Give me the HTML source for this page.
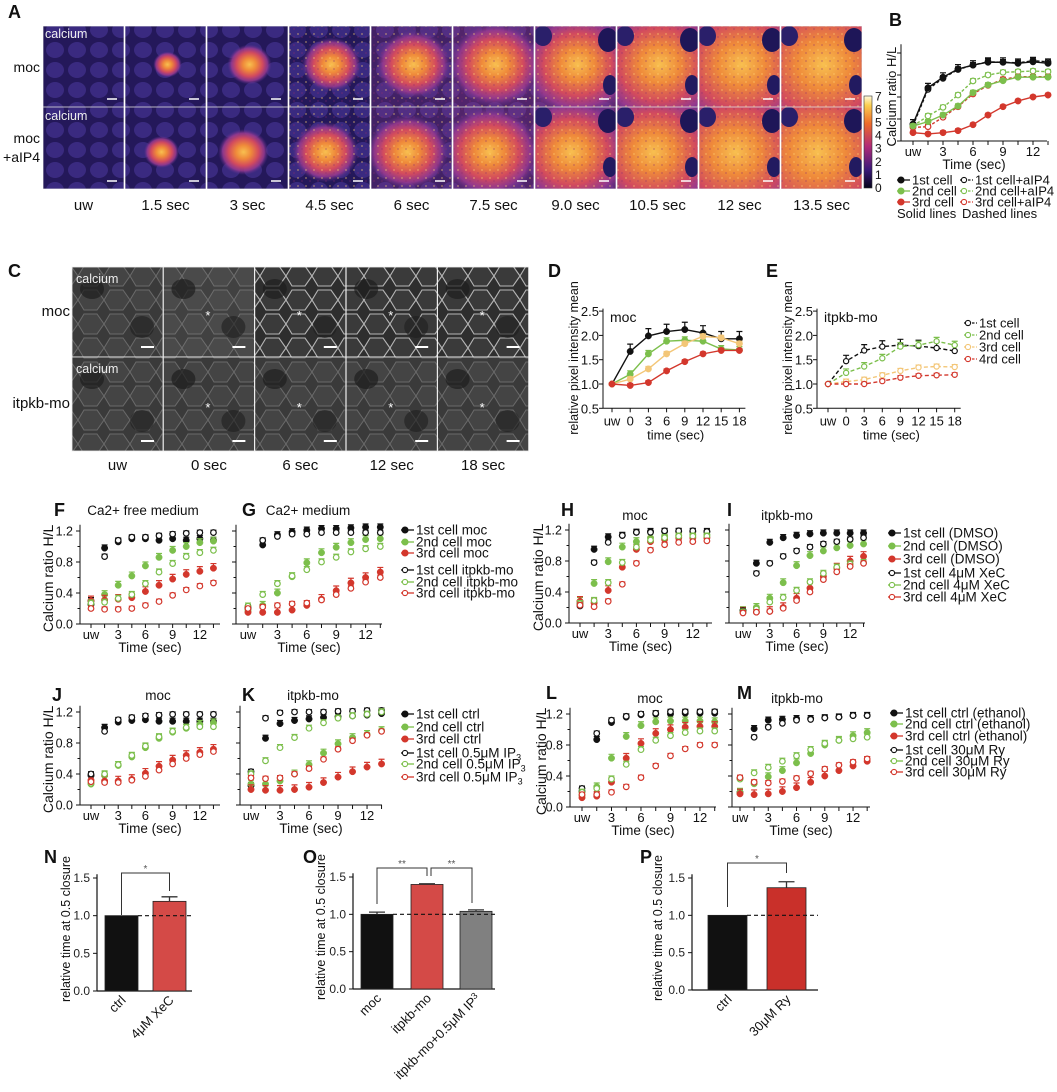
<!DOCTYPE html>
<html><head><meta charset="utf-8">
<style>
html,body{margin:0;padding:0;background:#fff;}
svg{display:block;font-family:"Liberation Sans",Arial,sans-serif;}
</style></head>
<body>
<svg id="fig" width="1057" height="1092" viewBox="0 0 1057 1092" xmlns="http://www.w3.org/2000/svg">
<defs id="defs">
<radialGradient id="blob" cx="50%" cy="50%" r="50%">
<stop offset="0%" stop-color="#f8c050"/><stop offset="30%" stop-color="#ef8a3a"/><stop offset="60%" stop-color="#d24a5e"/><stop offset="82%" stop-color="#9a3a90" stop-opacity="0.85"/><stop offset="100%" stop-color="#5a3090" stop-opacity="0"/>
</radialGradient>
<linearGradient id="cbar" x1="0" y1="1" x2="0" y2="0">
<stop offset="0%" stop-color="#05031a"/><stop offset="20%" stop-color="#3a1a7a"/><stop offset="45%" stop-color="#b02a78"/><stop offset="70%" stop-color="#ee6a2a"/><stop offset="90%" stop-color="#fbd050"/><stop offset="100%" stop-color="#fffbe0"/>
</linearGradient>
<pattern id="cellsBright" width="26" height="24" patternUnits="userSpaceOnUse">
<rect width="26" height="24" fill="#2e2e2e"/><path d="M0 12 L6 2 L19 2 L26 12 L19 22 L6 22 Z" fill="#3a3a3a" stroke="#b5b5b5" stroke-width="1.1"/>
</pattern>
<pattern id="cellsFaint" width="26" height="24" patternUnits="userSpaceOnUse">
<rect width="26" height="24" fill="#3a3a3a"/><path d="M0 12 L6 2 L19 2 L26 12 L19 22 L6 22 Z" fill="#444" stroke="#6a6a6a" stroke-width="1"/>
</pattern>
<pattern id="purpleCells" width="22" height="20" patternUnits="userSpaceOnUse">
<rect width="22" height="20" fill="#24185a"/><ellipse cx="11" cy="10" rx="9" ry="8" fill="#3a2a80"/>
</pattern>
<pattern id="speckle" width="8" height="8" patternUnits="userSpaceOnUse">
<circle cx="2" cy="2" r="1" fill="#ffd070" opacity="0.6"/><circle cx="6" cy="5" r="0.9" fill="#8a2a70" opacity="0.6"/>
</pattern>
</defs>
</svg>
<script>
// ===== Data arrays =====
const timesSec = [0,1.5,3,4.5,6,7.5,9,10.5,12,13.5];
const xTickVals = [0,3,6,9,12];
const xTickLabels = ['uw','3','6','9','12'];
const yTickVals = [0,0.4,0.8,1.2];
const yTickLabels = ['0.0','0.4','0.8','1.2'];

// B
const B_1st = [0.77,2.42,2.9,3.27,3.45,3.58,3.58,3.53,3.6,3.53];
const B_2nd = [0.68,0.88,1.18,1.59,2.2,2.55,2.74,2.9,2.9,2.9];
const B_3rd = [0.38,0.32,0.38,0.47,0.74,1.18,1.56,1.82,2.0,2.09];
const B_1st_aIP4 = [0.7,2.35,2.85,3.25,3.45,3.6,3.58,3.55,3.65,3.6];
const B_2nd_aIP4 = [0.68,1.14,1.53,2.09,2.73,3.0,3.12,3.15,3.18,3.15];
const B_3rd_aIP4 = [0.62,0.65,1.08,1.56,2.14,2.53,2.8,2.92,2.92,2.92];
const B_yTicks = [0,1,2,3,4];

// D / E
const DE_cats = ['uw','0','3','6','9','12','15','18'];
const DE_yTicks = [0.5,1.0,1.5,2.0,2.5];
const DE_yLabels = ['0.5','1.0','1.5','2.0','2.5'];
const D_1st = [1,1.67,1.99,2.08,2.12,2.05,1.93,1.93];
const D_2nd = [1,1.2,1.62,1.88,1.9,1.88,1.72,1.7];
const D_3rd = [1,1.1,1.31,1.62,1.83,1.98,1.95,1.83];
const D_4th = [1,0.97,1.03,1.27,1.46,1.62,1.69,1.69];
const E_1st = [1,1.47,1.69,1.77,1.8,1.78,1.74,1.68];
const E_2nd = [1,1.23,1.36,1.53,1.77,1.8,1.88,1.8];
const E_3rd = [1,1.05,1.09,1.18,1.27,1.34,1.36,1.35];
const E_4th = [1,1,1,1.06,1.13,1.17,1.18,1.19];

// F
const F_1st_moc = [0.3,0.98,1.06,1.1,1.1,1.08,1.1,1.08,1.1,1.08];
const F_2nd_moc = [0.26,0.38,0.5,0.62,0.75,0.86,0.95,1.0,1.05,1.07];
const F_3rd_moc = [0.3,0.31,0.32,0.34,0.42,0.5,0.58,0.64,0.68,0.72];
const F_1st_mo = [0.25,0.87,1.08,1.12,1.12,1.14,1.16,1.17,1.18,1.18];
const F_2nd_mo = [0.27,0.28,0.33,0.38,0.52,0.67,0.78,0.87,0.92,0.95];
const F_3rd_mo = [0.2,0.19,0.19,0.2,0.24,0.29,0.37,0.44,0.49,0.53];
// G
const G_1st_moc = [0.2,1.02,1.15,1.19,1.21,1.23,1.23,1.24,1.25,1.25];
const G_2nd_moc = [0.17,0.24,0.4,0.61,0.79,0.92,0.99,1.05,1.09,1.1];
const G_3rd_moc = [0.15,0.15,0.15,0.18,0.24,0.32,0.43,0.53,0.6,0.67];
const G_1st_mo = [0.22,1.08,1.13,1.16,1.16,1.18,1.18,1.18,1.18,1.18];
const G_2nd_mo = [0.23,0.38,0.52,0.62,0.7,0.8,0.86,0.93,0.97,1.0];
const G_3rd_mo = [0.2,0.22,0.24,0.26,0.27,0.31,0.38,0.46,0.54,0.6];
// H
const H_1st_dmso = [0.25,0.95,1.11,1.13,1.17,1.18,1.18,1.18,1.18,1.18];
const H_2nd_dmso = [0.28,0.51,0.79,0.98,1.05,1.1,1.12,1.13,1.14,1.14];
const H_3rd_dmso = [0.28,0.26,0.42,0.72,0.95,1.05,1.08,1.1,1.1,1.1];
const H_1st_xec = [0.22,0.78,1.04,1.13,1.17,1.17,1.19,1.19,1.19,1.18];
const H_2nd_xec = [0.25,0.29,0.52,0.78,0.98,1.07,1.1,1.12,1.12,1.12];
const H_3rd_xec = [0.23,0.21,0.28,0.5,0.77,0.94,1.01,1.04,1.05,1.06];
// I
const I_1st_dmso = [0.16,0.77,1.04,1.1,1.13,1.15,1.16,1.16,1.16,1.16];
const I_2nd_dmso = [0.16,0.2,0.32,0.52,0.74,0.87,0.93,0.97,1.0,1.02];
const I_3rd_dmso = [0.14,0.14,0.15,0.2,0.32,0.45,0.6,0.71,0.8,0.86];
const I_1st_xec = [0.16,0.64,0.77,0.86,0.93,0.98,1.02,1.05,1.08,1.1];
const I_2nd_xec = [0.14,0.18,0.27,0.33,0.42,0.53,0.64,0.72,0.76,0.78];
const I_3rd_xec = [0.13,0.14,0.15,0.19,0.29,0.4,0.56,0.66,0.73,0.77];
// J
const J_1st_ctrl = [0.38,1.0,1.07,1.09,1.1,1.08,1.08,1.08,1.08,1.08];
const J_2nd_ctrl = [0.27,0.38,0.51,0.62,0.74,0.86,0.94,0.99,1.04,1.06];
const J_3rd_ctrl = [0.32,0.31,0.31,0.33,0.41,0.5,0.58,0.64,0.68,0.72];
const J_1st_ip3 = [0.4,0.95,1.1,1.13,1.15,1.16,1.17,1.17,1.17,1.17];
const J_2nd_ip3 = [0.28,0.4,0.52,0.64,0.76,0.88,0.95,1.0,1.01,1.01];
const J_3rd_ip3 = [0.3,0.29,0.29,0.32,0.37,0.45,0.53,0.6,0.65,0.69];
// K
const K_1st_ctrl = [0.25,0.86,1.05,1.09,1.11,1.13,1.14,1.15,1.16,1.18];
const K_2nd_ctrl = [0.27,0.27,0.31,0.4,0.52,0.67,0.79,0.87,0.91,0.96];
const K_3rd_ctrl = [0.2,0.19,0.19,0.2,0.23,0.29,0.36,0.43,0.49,0.53];
const K_1st_ip3 = [0.43,1.12,1.19,1.2,1.2,1.2,1.21,1.21,1.22,1.22];
const K_2nd_ip3 = [0.4,0.57,0.74,0.87,0.99,1.06,1.12,1.15,1.17,1.2];
const K_3rd_ip3 = [0.35,0.34,0.35,0.4,0.47,0.59,0.72,0.83,0.9,0.95];
// L
const L_1st_eth = [0.2,0.87,1.09,1.16,1.19,1.2,1.2,1.21,1.21,1.21];
const L_2nd_eth = [0.15,0.26,0.63,0.91,1.05,1.1,1.11,1.11,1.11,1.1];
const L_3rd_eth = [0.12,0.14,0.32,0.63,0.82,0.95,1.0,1.03,1.04,1.04];
const L_1st_ry = [0.24,0.95,1.12,1.17,1.2,1.21,1.23,1.23,1.23,1.23];
const L_2nd_ry = [0.19,0.24,0.36,0.55,0.74,0.86,0.92,0.96,0.98,0.98];
const L_3rd_ry = [0.16,0.16,0.19,0.26,0.38,0.53,0.66,0.75,0.8,0.8];
// M
const M_1st_eth = [0.19,1.01,1.12,1.13,1.14,1.14,1.15,1.16,1.18,1.18];
const M_2nd_eth = [0.19,0.3,0.39,0.47,0.57,0.69,0.8,0.86,0.92,0.96];
const M_3rd_eth = [0.17,0.16,0.17,0.2,0.25,0.32,0.4,0.47,0.53,0.59];
const M_1st_ry = [0.37,0.9,1.03,1.08,1.12,1.13,1.15,1.16,1.18,1.18];
const M_2nd_ry = [0.36,0.44,0.51,0.59,0.66,0.74,0.82,0.86,0.88,0.9];
const M_3rd_ry = [0.38,0.32,0.31,0.33,0.37,0.43,0.49,0.54,0.58,0.62];

// Bars
const N_cats = ['ctrl','4\u03bcM XeC'];
const N_vals = [1.0,1.19];
const N_errs = [0,0.06];
const O_cats = ['moc','itpkb-mo','itpkb-mo+0.5\u03bcM IP3'];
const O_vals = [1.0,1.4,1.04];
const O_errs = [0.03,0.01,0.02];
const P_cats = ['ctrl','30\u03bcM Ry'];
const P_vals = [1.0,1.37];
const P_errs = [0,0.08];
const bar_yTicks = [0,0.5,1.0,1.5];
const bar_yLabels = ['0.0','0.5','1.0','1.5'];

// ===== helpers =====
const NS='http://www.w3.org/2000/svg';
const svg=document.getElementById('fig');
const defs=document.getElementById('defs');
const BLACK='#111', GREEN='#7cbf4c', RED='#d3372c', YEL='#f3c677';
function el(tag,attrs,parent){const e=document.createElementNS(NS,tag);for(const k in attrs)e.setAttribute(k,attrs[k]);(parent||svg).appendChild(e);return e;}
function txt(s,attrs,parent){const e=el('text',attrs,parent);e.textContent=s;return e;}

function panelLetter(ch,x,y){
  const t=txt(ch,{x:x,y:y,'font-size':18,'font-weight':'bold',fill:'#111'});
  
  
}

// ===== Scatter/line time panels =====
function timePanel(p){
  const g=el('g',{});
  
  
  const X=t=>p.uw+t*p.ps;
  const Y=v=>p.y0px-(v-p.y0v)*p.ppv;
  const topY=Y(p.ymaxAxis);
  const ya=el('line',{x1:p.ax,y1:p.bottom,x2:p.ax,y2:topY,stroke:'#111','stroke-width':1},g);
  
  
  const xa=el('line',{x1:p.ax,y1:p.bottom,x2:p.end,y2:p.bottom,stroke:'#111','stroke-width':1},g);
  
  
  p.yticks.forEach((v,i)=>{
    const tk=el('line',{x1:p.ax-4,y1:Y(v),x2:p.ax,y2:Y(v),stroke:'#111'},g);
    
    
    if(p.ylabels){
      const tl=txt(p.ylabels[i],{x:p.ax-7,y:Y(v)+4.5,'font-size':12.5,'text-anchor':'end',fill:'#111'},g);
      
      
    }
    if(p.minor && i<p.yticks.length-1){
      const mv=(v+p.yticks[i+1])/2;
      const mt=el('line',{x1:p.ax-2.5,y1:Y(mv),x2:p.ax,y2:Y(mv),stroke:'#111'},g);
      
      
    }
  });
  timesSec.forEach(t=>{
    const tk=el('line',{x1:X(t),y1:p.bottom,x2:X(t),y2:p.bottom+4,stroke:'#111'},g);
    
    
  });
  xTickVals.forEach((t,i)=>{
    const tl=txt(xTickLabels[i],{x:X(t),y:p.bottom+15,'font-size':13,'text-anchor':'middle',fill:'#111'},g);
    
    
  });
  const xt=txt('Time (sec)',{x:(p.ax+p.end)/2,y:p.bottom+28,'font-size':13.5,'text-anchor':'middle',fill:'#111'},g);
  
  
  if(p.ytitle){
    const yt=txt(p.ytitle,{x:0,y:0,'font-size':p.ytfs||14,'text-anchor':'middle',fill:'#111',transform:'translate('+p.ytx+','+((p.bottom+topY)/2+4)+') rotate(-90)'},g);
    
    
  }
  if(p.title){
    const tt=txt(p.title,{x:p.titleX,y:p.titleY,'font-size':13.5,'text-anchor':'middle',fill:'#111'},g);
    
    
  }
  p.series.forEach(s=>{
    const sg=el('g',{},g);
    
    
    if(s.line){
      const pts=s.vals.map((v,i)=>X(timesSec[i])+','+Y(v)).join(' ');
      const pl=el('polyline',{points:pts,fill:'none',stroke:s.color,'stroke-width':1.4,'stroke-dasharray':s.dash?'3,2':'none'},sg);
      
      
    }
    s.vals.forEach((v,i)=>{
      const x=X(timesSec[i]),y=Y(v),ye=Y(v+s.err);
      const eb=el('path',{d:'M'+x+' '+y+'V'+ye+'M'+(x-3)+' '+ye+'H'+(x+3),stroke:s.color,'stroke-width':1.2,fill:'none'},sg);
      
      
      const c=el('circle',{cx:x,cy:y,r:s.open?2.8:3.2,fill:s.open?'#fff':s.color,stroke:s.color,'stroke-width':s.open?1.2:0.5},sg);
      
      
    });
  });
}

function legend(items,x,ys,fs){
  const g=el('g',{});
  
  
  items.forEach((it,i)=>{
    const y=ys[i];
    const ln=el('line',{x1:x,y1:y,x2:x+13,y2:y,stroke:it.color,'stroke-width':1.3,'stroke-dasharray':it.dash?'2.5,1.5':'none'},g);
    
    
    const c=el('circle',{cx:x+4,cy:y,r:it.open?2.6:3,fill:it.open?'#fff':it.color,stroke:it.color,'stroke-width':1.1},g);
    
    
    const t=txt('',{x:x+15,y:y+4.5,'font-size':fs||13.5,fill:'#111'},g);
    
    
    if(it.sub){t.textContent=it.label;const ts=el('tspan',{'font-size':9,dy:3},t);ts.textContent=it.sub;}
    else t.textContent=it.label;
  });
}

// ===== Panel A image grid =====
(function(){
  const g=el('g',{});
  
  
  const radii=[0,13,20,27,34,42,52,62,72,82];
  const rows=[{y:26,h:81},{y:107,h:82}];
  rows.forEach((r,ri)=>{
    for(let c=0;c<10;c++){
      const x=43+c*82;
      const w=81;
      const cp=el('clipPath',{id:'clipA'+ri+'_'+c},defs);
      el('rect',{x:x,y:r.y,width:w,height:r.h},cp);
      const im=el('g',{'clip-path':'url(#clipA'+ri+'_'+c+')'},g);
      
      
      el('rect',{x:x,y:r.y,width:w,height:r.h,fill:'url(#purpleCells)'},im);
      if(c>=4){
        el('rect',{x:x,y:r.y,width:w,height:r.h,fill:'#9a3a8a',opacity:Math.min(0.25+(c-4)*0.13,0.85)},im);
      }
      if(c>0){
        const rr=radii[c]+(ri===1?3:0);
        el('ellipse',{cx:x+w/2+(ri===1?-4:2),cy:r.y+r.h/2+(ri===1?4:-2),rx:rr*1.1,ry:rr,fill:'url(#blob)'},im);
        if(c>=3) el('rect',{x:x,y:r.y,width:w,height:r.h,fill:'url(#speckle)',opacity:0.7},im);
        if(c>=6){
          el('ellipse',{cx:x+w-8,cy:r.y+14,rx:10,ry:12,fill:'#1e1658'},im);
          el('ellipse',{cx:x+w-6,cy:r.y+r.h-22,rx:7,ry:10,fill:'#221a60'},im);
          el('ellipse',{cx:x+8,cy:r.y+10,rx:9,ry:10,fill:'#2a1f6a'},im);
        }
      }
      el('line',{x1:x+w-17,y1:r.y+r.h-8,x2:x+w-7,y2:r.y+r.h-8,stroke:'#fff','stroke-width':1.5},im);
      el('rect',{x:x,y:r.y,width:w,height:r.h,fill:'none',stroke:'#ddd','stroke-width':0.8},im);
    }
  });
  ['calcium','calcium'].forEach((s,i)=>{
    const t=txt(s,{x:45,y:i?120:38,'font-size':12.5,fill:'#eee'},g);
    
    
  });
  const l1=txt('moc',{x:40,y:72,'font-size':14,'text-anchor':'end',fill:'#111'},g);
  
  
  const l2=txt('moc',{x:40,y:143,'font-size':14,'text-anchor':'end',fill:'#111'},g);
  
  
  const l3=txt('+aIP4',{x:40,y:162,'font-size':14,'text-anchor':'end',fill:'#111'},g);
  
  
  ['uw','1.5 sec','3 sec','4.5 sec','6 sec','7.5 sec','9.0 sec','10.5 sec','12 sec','13.5 sec'].forEach((s,i)=>{
    const t=txt(s,{x:43+i*82+40.5,y:210,'font-size':15,'text-anchor':'middle',fill:'#111'},g);
    
    
  });
  const cb=el('rect',{x:864,y:96,width:8,height:92,fill:'url(#cbar)',stroke:'#333','stroke-width':0.6},g);
  
  
  for(let v=0;v<=7;v++){
    const t=txt(String(v),{x:875,y:192-v*13.1,'font-size':12,fill:'#111'},g);
    
    
  }
})();
panelLetter('A',8,18);

// ===== Panel C gray images =====
(function(){
  const g=el('g',{});
  
  
  const rows=[{y:267,h:90},{y:357,h:94}];
  rows.forEach((r,ri)=>{
    for(let c=0;c<5;c++){
      const x=72+c*91.4, w=91;
      const im=el('g',{},g);
      
      
      const bright=(ri===0&&c>=2);
      el('rect',{x:x,y:r.y,width:w,height:r.h,fill:bright?'url(#cellsBright)':'url(#cellsFaint)'},im);
      if(ri===0&&c===1) el('rect',{x:x,y:r.y,width:w,height:r.h,fill:'#999',opacity:0.08},im);
      el('ellipse',{cx:x+20,cy:r.y+22,rx:12,ry:10,fill:'#1e1e1e',opacity:0.7},im);
      el('ellipse',{cx:x+70,cy:r.y+r.h-30,rx:12,ry:11,fill:'#1e1e1e',opacity:0.6},im);
      if(c>0){const s=txt('*',{x:x+42,y:r.y+r.h/2+8,'font-size':13,fill:'#fff'},im);
        
        }
      el('line',{x1:x+w-22,y1:r.y+r.h-10,x2:x+w-9,y2:r.y+r.h-10,stroke:'#fff','stroke-width':2},im);
      el('rect',{x:x,y:r.y,width:w,height:r.h,fill:'none',stroke:'#eee','stroke-width':0.8},im);
    }
  });
  [['calcium',270+13],['calcium',357+16]].forEach((a,i)=>{
    const t=txt(a[0],{x:76,y:a[1],'font-size':12.5,fill:'#eee'},g);
    
    
  });
  const a=txt('moc',{x:70,y:316,'font-size':15,'text-anchor':'end',fill:'#111'},g);
  
  
  const b=txt('itpkb-mo',{x:70,y:408,'font-size':15,'text-anchor':'end',fill:'#111'},g);
  
  
  ['uw','0 sec','6 sec','12 sec','18 sec'].forEach((s,i)=>{
    const t=txt(s,{x:72+i*91.4+45.5,y:470,'font-size':15,'text-anchor':'middle',fill:'#111'},g);
    
    
  });
})();
panelLetter('C',8,277);

// ===== Panel B =====
panelLetter('B',889,26);
timePanel({id:'b',ax:901,uw:913,ps:10,end:1047,bottom:141,y0px:141,y0v:0,ppv:22,ymaxAxis:4.4,yticks:B_yTicks,ylabels:null,minor:false,
  ytitle:'Calcium ratio H/L',ytx:896,ytfs:13,
  series:[
   {name:'1st-cell-aip4',vals:B_1st_aIP4,color:BLACK,open:true,line:true,dash:true,err:0.12},
   {name:'2nd-cell-aip4',vals:B_2nd_aIP4,color:GREEN,open:true,line:true,dash:true,err:0.1},
   {name:'3rd-cell-aip4',vals:B_3rd_aIP4,color:RED,open:true,line:true,dash:true,err:0.1},
   {name:'1st-cell',vals:B_1st,color:BLACK,open:false,line:true,dash:false,err:0.2},
   {name:'2nd-cell',vals:B_2nd,color:GREEN,open:false,line:true,dash:false,err:0.1},
   {name:'3rd-cell',vals:B_3rd,color:RED,open:false,line:true,dash:false,err:0.08}]});
legend([{label:'1st cell',color:BLACK},{label:'2nd cell',color:GREEN},{label:'3rd cell',color:RED}],897,[180,191,202],13);
legend([{label:'1st cell+aIP4',color:BLACK,open:true,dash:true},{label:'2nd cell+aIP4',color:GREEN,open:true,dash:true},{label:'3rd cell+aIP4',color:RED,open:true,dash:true}],960,[180,191,202],13);
(function(){
  const a=txt('Solid lines',{x:897,y:218,'font-size':13,fill:'#111'});
  
  
  const b=txt('Dashed lines',{x:962,y:218,'font-size':13,fill:'#111'});
  
  
})();

// ===== Panels D / E (categorical x) =====
function catPanel(p){
  const g=el('g',{});
  
  
  const X=i=>p.x0+i*p.step;
  const Y=v=>384-(v-1)*48.6;
  const bottom=Y(0.5), top=Y(2.55);
  const ya=el('line',{x1:p.ax,y1:bottom,x2:p.ax,y2:top,stroke:'#111'},g);
  
  
  const xa=el('line',{x1:p.ax,y1:bottom,x2:X(7)+6,y2:bottom,stroke:'#111'},g);
  
  
  DE_yTicks.forEach((v,i)=>{
    const tk=el('line',{x1:p.ax-4,y1:Y(v),x2:p.ax,y2:Y(v),stroke:'#111'},g);
    
    
    const tl=txt(DE_yLabels[i],{x:p.ax-4,y:Y(v)+5,'font-size':13,'text-anchor':'end',fill:'#111'},g);
    
    
  });
  DE_cats.forEach((c,i)=>{
    const tk=el('line',{x1:X(i),y1:bottom,x2:X(i),y2:bottom+4,stroke:'#111'},g);
    
    
    const tl=txt(c,{x:X(i),y:bottom+17,'font-size':13,'text-anchor':'middle',fill:'#111'},g);
    
    
  });
  const xt=txt('time (sec)',{x:(X(0)+X(7))/2,y:bottom+31,'font-size':13,'text-anchor':'middle',fill:'#111'},g);
  
  
  const yt=txt('relative pixel intensity mean',{x:0,y:0,'font-size':12.5,'text-anchor':'middle',fill:'#111',transform:'translate('+p.ytx+',358) rotate(-90)'},g);
  
  
  const tt=txt(p.title,{x:p.ax+7,y:322,'font-size':14,fill:'#111'},g);
  
  
  p.series.forEach(s=>{
    const sg=el('g',{},g);
    
    
    const pts=s.vals.map((v,i)=>X(i)+','+Y(v)).join(' ');
    const pl=el('polyline',{points:pts,fill:'none',stroke:s.color,'stroke-width':1.4,'stroke-dasharray':p.dash?'4,2.5':'none'},sg);
    
    
    s.vals.forEach((v,i)=>{
      const x=X(i),y=Y(v),ye=Y(v+(i?s.err:0));
      if(i){const eb=el('path',{d:'M'+x+' '+y+'V'+ye+'M'+(x-3)+' '+ye+'H'+(x+3),stroke:s.color,'stroke-width':1.2,fill:'none'},sg);
      
      }
      const c=el('circle',{cx:x,cy:y,r:p.dash?2.6:3.2,fill:p.dash?'#fff':s.color,stroke:s.color,'stroke-width':p.dash?1.2:0.5},sg);
      
      
    });
  });
}
panelLetter('D',548,277);
catPanel({id:'d',ax:603,x0:612,step:18.2,ytx:578,title:'moc',dash:false,series:[
  {name:'1st-cell',vals:D_1st,color:BLACK,err:0.15},
  {name:'2nd-cell',vals:D_2nd,color:GREEN,err:0.07},
  {name:'3rd-cell',vals:D_3rd,color:YEL,err:0.05},
  {name:'4th-cell',vals:D_4th,color:RED,err:0.04}]});
panelLetter('E',766,277);
catPanel({id:'e',ax:817,x0:828,step:18.1,ytx:792,title:'itpkb-mo',dash:true,series:[
  {name:'1st-cell',vals:E_1st,color:BLACK,err:0.12},
  {name:'2nd-cell',vals:E_2nd,color:GREEN,err:0.08},
  {name:'3rd-cell',vals:E_3rd,color:YEL,err:0.05},
  {name:'4th-cell',vals:E_4th,color:RED,err:0.04}]});
legend([{label:'1st cell',color:BLACK,open:true,dash:true},{label:'2nd cell',color:GREEN,open:true,dash:true},{label:'3rd cell',color:YEL,open:true,dash:true},{label:'4rd cell',color:RED,open:true,dash:true}],964,[323,335,347,359],13);

// ===== F-M =====
const RY=(b,t,lab)=>({bottom:b,y0px:b,y0v:0,ppv:(b-t)/1.2,ymaxAxis:1.28,yticks:yTickVals,ylabels:lab?yTickLabels:null,minor:true});
function six(a,b,c,d,e,f,names){
  return [
   {name:names[0],vals:a,color:BLACK,open:false,err:0.04},
   {name:names[1],vals:b,color:GREEN,open:false,err:0.05},
   {name:names[2],vals:c,color:RED,open:false,err:0.06},
   {name:names[3],vals:d,color:BLACK,open:true,err:0.03},
   {name:names[4],vals:e,color:GREEN,open:true,err:0.04},
   {name:names[5],vals:f,color:RED,open:true,err:0.03}];
}
const nmMoc=['1st-cell-moc','2nd-cell-moc','3rd-cell-moc','1st-cell-itpkb-mo','2nd-cell-itpkb-mo','3rd-cell-itpkb-mo'];
panelLetter('F',54,516);
timePanel(Object.assign({id:'f',ax:80,uw:91,ps:9.07,end:220,ytitle:'Calcium ratio H/L',ytx:53,title:'Ca2+ free medium',titleX:143,titleY:515,
  series:six(F_1st_moc,F_2nd_moc,F_3rd_moc,F_1st_mo,F_2nd_mo,F_3rd_mo,nmMoc)},RY(624,531,true)));
panelLetter('G',242,516);
timePanel(Object.assign({id:'g',ax:236,uw:248,ps:9.8,end:382,title:'Ca2+ medium',titleX:308,titleY:515,
  series:six(G_1st_moc,G_2nd_moc,G_3rd_moc,G_1st_mo,G_2nd_mo,G_3rd_mo,nmMoc)},RY(624,531,false)));
legend([{label:'1st cell moc',color:BLACK},{label:'2nd cell moc',color:GREEN},{label:'3rd cell moc',color:RED},
  {label:'1st cell itpkb-mo',color:BLACK,open:true},{label:'2nd cell itpkb-mo',color:GREEN,open:true},{label:'3rd cell itpkb-mo',color:RED,open:true}],401,[530,542,553,570,582,593]);

const nmX=['1st-cell-dmso','2nd-cell-dmso','3rd-cell-dmso','1st-cell-4um-xec','2nd-cell-4um-xec','3rd-cell-4um-xec'];
panelLetter('H',561,516);
timePanel(Object.assign({id:'h',ax:569,uw:580,ps:9.4,end:712,ytitle:'Calcium ratio H/L',ytx:543,title:'moc',titleX:635,titleY:520,
  series:six(H_1st_dmso,H_2nd_dmso,H_3rd_dmso,H_1st_xec,H_2nd_xec,H_3rd_xec,nmX)},RY(623,530,true)));
panelLetter('I',727,516);
timePanel(Object.assign({id:'i',ax:729,uw:743,ps:8.93,end:865,title:'itpkb-mo',titleX:787,titleY:520,
  series:six(I_1st_dmso,I_2nd_dmso,I_3rd_dmso,I_1st_xec,I_2nd_xec,I_3rd_xec,nmX)},RY(623,530,false)));
legend([{label:'1st cell (DMSO)',color:BLACK},{label:'2nd cell (DMSO)',color:GREEN},{label:'3rd cell (DMSO)',color:RED},
  {label:'1st cell 4\u03bcM XeC',color:BLACK,open:true},{label:'2nd cell 4\u03bcM XeC',color:GREEN,open:true},{label:'3rd cell 4\u03bcM XeC',color:RED,open:true}],888,[533,546,559,573,585,597]);

const nmI=['1st-cell-ctrl','2nd-cell-ctrl','3rd-cell-ctrl','1st-cell-ip3','2nd-cell-ip3','3rd-cell-ip3'];
panelLetter('J',52,701);
timePanel(Object.assign({id:'j',ax:80,uw:91,ps:9.07,end:220,ytitle:'Calcium ratio H/L',ytx:53,title:'moc',titleX:158,titleY:700,
  series:six(J_1st_ctrl,J_2nd_ctrl,J_3rd_ctrl,J_1st_ip3,J_2nd_ip3,J_3rd_ip3,nmI)},RY(805,712,true)));
panelLetter('K',242,701);
timePanel(Object.assign({id:'k',ax:240,uw:251,ps:9.67,end:382,title:'itpkb-mo',titleX:313,titleY:700,
  series:six(K_1st_ctrl,K_2nd_ctrl,K_3rd_ctrl,K_1st_ip3,K_2nd_ip3,K_3rd_ip3,nmI)},RY(805,712,false)));
legend([{label:'1st cell ctrl',color:BLACK},{label:'2nd cell ctrl',color:GREEN},{label:'3rd cell ctrl',color:RED},
  {label:'1st cell 0.5\u03bcM IP',sub:'3',color:BLACK,open:true},{label:'2nd cell 0.5\u03bcM IP',sub:'3',color:GREEN,open:true},{label:'3rd cell 0.5\u03bcM IP',sub:'3',color:RED,open:true}],401,[714,727,739,753,764,777]);

const nmR=['1st-cell-ethanol','2nd-cell-ethanol','3rd-cell-ethanol','1st-cell-30um-ry','2nd-cell-30um-ry','3rd-cell-30um-ry'];
panelLetter('L',546,699);
timePanel(Object.assign({id:'l',ax:570,uw:582,ps:9.83,end:716,ytitle:'Calcium ratio H/L',ytx:546,title:'moc',titleX:650,titleY:703,
  series:six(L_1st_eth,L_2nd_eth,L_3rd_eth,L_1st_ry,L_2nd_ry,L_3rd_ry,nmR)},RY(807,714,true)));
panelLetter('M',737,699);
timePanel(Object.assign({id:'m',ax:732,uw:740,ps:9.42,end:870,title:'itpkb-mo',titleX:797,titleY:703,
  series:six(M_1st_eth,M_2nd_eth,M_3rd_eth,M_1st_ry,M_2nd_ry,M_3rd_ry,nmR)},RY(807,714,false)));
legend([{label:'1st cell ctrl (ethanol)',color:BLACK},{label:'2nd cell ctrl (ethanol)',color:GREEN},{label:'3rd cell ctrl (ethanol)',color:RED},
  {label:'1st cell 30\u03bcM Ry',color:BLACK,open:true},{label:'2nd cell 30\u03bcM Ry',color:GREEN,open:true},{label:'3rd cell 30\u03bcM Ry',color:RED,open:true}],890,[713,724,736,750,761,772]);

// ===== Bar charts =====
function barPanel(p){
  const g=el('g',{});
  
  
  const Y=v=>p.bottom-v*(p.bottom-p.top15)/1.5;
  const ya=el('line',{x1:p.ax,y1:p.bottom,x2:p.ax,y2:Y(1.55),stroke:'#111','stroke-width':1.2},g);
  
  
  const xa=el('line',{x1:p.ax,y1:p.bottom,x2:p.end,y2:p.bottom,stroke:'#111','stroke-width':1.2},g);
  
  
  bar_yTicks.forEach((v,i)=>{
    const tk=el('line',{x1:p.ax-4,y1:Y(v),x2:p.ax,y2:Y(v),stroke:'#111'},g);
    
    
    const tl=txt(bar_yLabels[i],{x:p.ax-7,y:Y(v)+4,'font-size':12,'text-anchor':'end',fill:'#222'},g);
    
    
  });
  const yt=txt('relative time at 0.5 closure',{x:0,y:0,'font-size':12.5,'text-anchor':'middle',fill:'#111',transform:'translate('+p.ytx+','+(p.bottom-62)+') rotate(-90)'},g);
  
  
  p.vals.forEach((v,i)=>{
    const x=p.bx[i], w=p.bw;
    const r=el('rect',{x:x,y:Y(v),width:w,height:p.bottom-Y(v),fill:p.colors[i],stroke:'#222','stroke-width':0.8},g);
    
    
    if(p.errs[i]>0){
      const eb=el('path',{d:'M'+(x+w/2)+' '+Y(v)+'V'+Y(v+p.errs[i])+'M'+(x+w/2-8)+' '+Y(v+p.errs[i])+'H'+(x+w/2+8),stroke:'#333','stroke-width':1.3,fill:'none'},g);
      
      
    }
    const tx=x+w/2+5, ty=p.bottom+10;
    const t=txt('',{x:tx,y:ty,'font-size':13,'text-anchor':'end',fill:'#111',transform:'rotate(-45 '+tx+' '+ty+')'},g);
    
    
    if(/IP3$/.test(p.cats[i])){t.textContent=p.cats[i].slice(0,-1);const s=el('tspan',{'font-size':9,dy:-4},t);s.textContent='3';}
    else t.textContent=p.cats[i];
  });
  const dl=el('line',{x1:p.bx[0]+p.bw,y1:Y(1),x2:p.end,y2:Y(1),stroke:'#111','stroke-width':1.2,'stroke-dasharray':'4,3'},g);
  
  
  p.brackets.forEach(b=>{
    const x1=p.bx[b[0]]+p.bw/2+b[3], x2=p.bx[b[1]]+p.bw/2-b[3];
    const bk=el('path',{d:'M'+x1+' '+(p.bktY+b[4])+'V'+p.bktY+'H'+x2+'V'+(p.bktY+b[5]),stroke:'#333','stroke-width':1,fill:'none'},g);
    
    
    const st=txt(b[2],{x:(x1+x2)/2,y:p.bktY-1,'font-size':10,'text-anchor':'middle',fill:'#555'},g);
    
    
  });
}
panelLetter('N',44,863);
barPanel({id:'n',ax:97,end:192,bottom:991,top15:878,ytx:70,cats:N_cats,vals:N_vals,errs:N_errs,bx:[105,153],bw:33,colors:['#111','#d44a47'],
  bktY:873,brackets:[[0,1,'*',0,42,18]]});
panelLetter('O',303,863);
barPanel({id:'o',ax:353,end:495,bottom:989,top15:877,ytx:325,cats:O_cats,vals:O_vals,errs:O_errs,bx:[361,411,460],bw:32,colors:['#111','#d44a47','#808080'],
  bktY:868,brackets:[[0,1,'**',0,36,8],[1,2,'**',4,8,35]]});
panelLetter('P',640,863);
barPanel({id:'p',ax:692,end:818,bottom:990,top15:878,ytx:662,cats:P_cats,vals:P_vals,errs:P_errs,bx:[708,767],bw:39,colors:['#111','#c9302a'],
  bktY:863,brackets:[[0,1,'*',0,44,10]]});
</script>
</body></html>
